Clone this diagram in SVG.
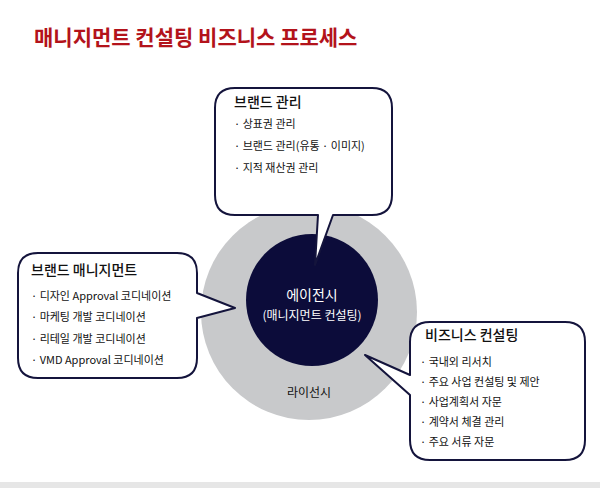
<svg xmlns="http://www.w3.org/2000/svg" width="600" height="488" viewBox="0 0 600 488">
<style>
text{font-family:"Noto Sans CJK KR","Noto Sans",sans-serif;fill:#111}
.bub{fill:#fff;stroke:#14143c;stroke-width:2;stroke-linejoin:round}
.h{font-size:14px;font-weight:500}
.i{font-size:11px}
</style>
<rect width="600" height="488" fill="#fff"/>
<rect x="0" y="482" width="600" height="6" fill="#e6e6e6"/>
<text x="34" y="45" style="font-size:21px;font-weight:bold;fill:#b3131b">매니지먼트 컨설팅 비즈니스 프로세스</text>
<g id="licensee"><circle cx="309" cy="312" r="108" fill="#c8c9cb"/><text x="309" y="397" text-anchor="middle" style="font-size:12px">라이선시</text></g>
<g id="agency"><circle cx="312" cy="300" r="66" fill="#0c0c3a"/>
<text x="312" y="300" text-anchor="middle" style="font-size:14px;fill:#fff">에이전시</text>
<text x="312" y="320" text-anchor="middle" style="font-size:12px;fill:#fff">(매니지먼트 컨설팅)</text></g>
<g id="brand-mgmt-top">
<path class="bub" d="M235 88 H372 Q392 88 392 108 V195 Q392 215 372 215 H333 L315 265 L318 215 H235 Q215 215 215 195 V108 Q215 88 235 88 Z"/>
<text class="h" x="234" y="107">브랜드 관리</text>
<text class="i" x="234" y="128">· 상표권 관리</text>
<text class="i" x="234" y="150">· 브랜드 관리(유통 · 이미지)</text>
<text class="i" x="234" y="172">· 지적 재산권 관리</text>
</g>
<g id="brand-management">
<path class="bub" d="M38 253 H177 Q197 253 197 273 V293 L235 308 L197 318 V358 Q197 378 177 378 H38 Q18 378 18 358 V273 Q18 253 38 253 Z"/>
<text class="h" x="31" y="275">브랜드 매니지먼트</text>
<text class="i" x="31" y="300">· 디자인 Approval 코디네이션</text>
<text class="i" x="31" y="321">· 마케팅 개발 코디네이션</text>
<text class="i" x="31" y="343">· 리테일 개발 코디네이션</text>
<text class="i" x="31" y="364">· VMD Approval 코디네이션</text>
</g>
<g id="business-consulting">
<path class="bub" d="M430 322 H565 Q585 322 585 342 V440 Q585 460 565 460 H430 Q410 460 410 440 V395 L365 355 L410 375 V342 Q410 322 430 322 Z"/>
<text class="h" x="425" y="340">비즈니스 컨설팅</text>
<text class="i" x="420" y="366">· 국내외 리서치</text>
<text class="i" x="420" y="386">· 주요 사업 컨설팅 및 제안</text>
<text class="i" x="420" y="406">· 사업계획서 자문</text>
<text class="i" x="420" y="426">· 계약서 체결 관리</text>
<text class="i" x="420" y="446">· 주요 서류 자문</text>
</g>
<g id="connectors"></g>
</svg>
